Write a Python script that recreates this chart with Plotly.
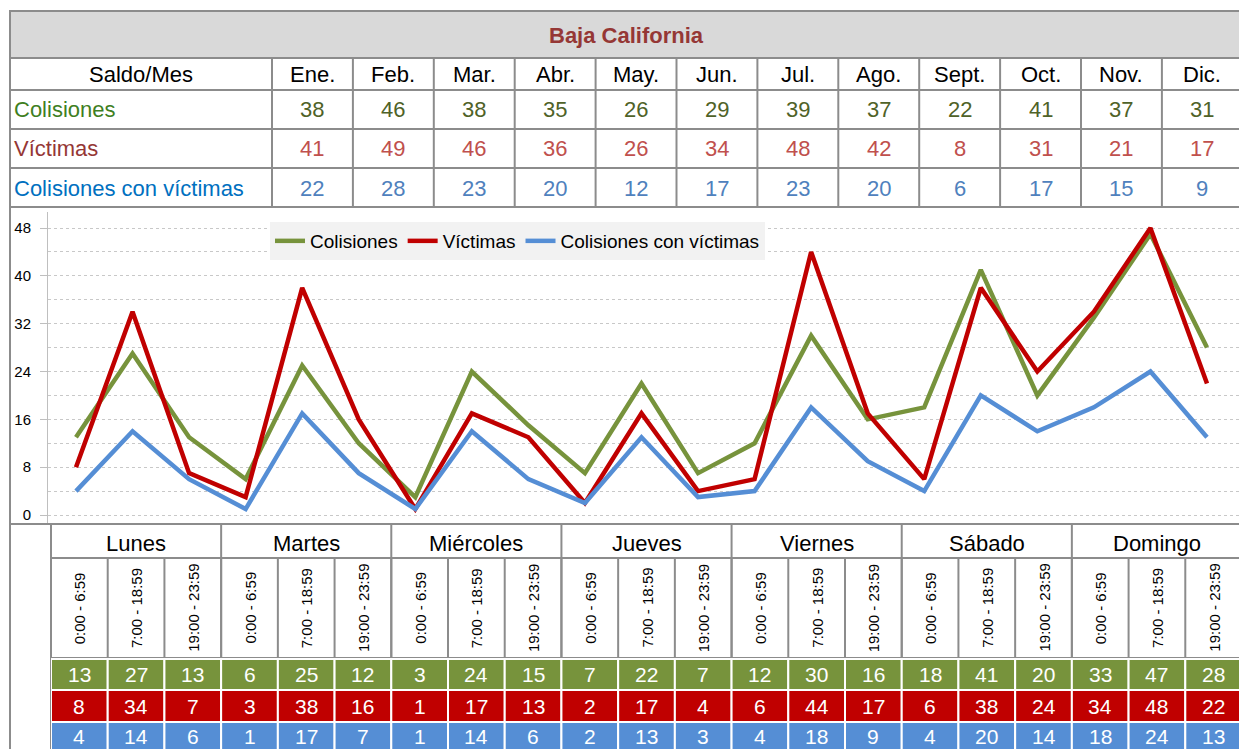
import plotly.graph_objects as go

# ---------------- data ----------------
months = ["Ene.", "Feb.", "Mar.", "Abr.", "May.", "Jun.", "Jul.", "Ago.", "Sept.", "Oct.", "Nov.", "Dic."]
colisiones_mes = [38, 46, 38, 35, 26, 29, 39, 37, 22, 41, 37, 31]
victimas_mes = [41, 49, 46, 36, 26, 34, 48, 42, 8, 31, 21, 17]
ccv_mes = [22, 28, 23, 20, 12, 17, 23, 20, 6, 17, 15, 9]

days = ["Lunes", "Martes", "Miércoles", "Jueves", "Viernes", "Sábado", "Domingo"]
shifts = ["0:00 - 6:59", "7:00 - 18:59", "19:00 - 23:59"]
colisiones_h = [13, 27, 13, 6, 25, 12, 3, 24, 15, 7, 22, 7, 12, 30, 16, 18, 41, 20, 33, 47, 28]
victimas_h = [8, 34, 7, 3, 38, 16, 1, 17, 13, 2, 17, 4, 6, 44, 17, 6, 38, 24, 34, 48, 22]
ccv_h = [4, 14, 6, 1, 17, 7, 1, 14, 6, 2, 13, 3, 4, 18, 9, 4, 20, 14, 18, 24, 13]

series_names = ["Colisiones", "Víctimas", "Colisiones con víctimas"]
y_ticks = [0, 8, 16, 24, 32, 40, 48]

# ---------------- style ----------------
W, H = 1239, 749
FONT = "Liberation Sans, Arial, sans-serif"
GREEN, RED, BLUE = "#77933c", "#c00000", "#558ed5"
GRAY = "#8c8c8c"
label_colors = ["#3f7f1f", "#953735", "#0070c0"]
num_colors = ["#4f6228", "#c0504d", "#4f81bd"]


def X(p):
    return p / W


def Y(p):
    return 1 - p / H


n = len(colisiones_h)
xs = list(range(n))

fig = go.Figure()
for name, vals, col in zip(series_names, [colisiones_h, victimas_h, ccv_h], [GREEN, RED, BLUE]):
    fig.add_trace(go.Scatter(x=xs, y=vals, name=name, mode="lines",
                             line=dict(color=col, width=4.5), hoverinfo="skip"))

# invisible trace for the table axis
fig.add_trace(go.Scatter(x=[0], y=[0], xaxis="x2", yaxis="y2", mode="markers",
                         marker=dict(opacity=0), showlegend=False, hoverinfo="skip"))

shapes = []
ann = []


def text(t, x, y, size, color, xref="paper", xanchor="center", angle=0):
    ann.append(dict(text=t, x=X(x) if xref == "paper" else x, y=Y(y), xref=xref, yref="paper",
                    xanchor=xanchor, yanchor="middle", textangle=angle, showarrow=False,
                    font=dict(family=FONT, size=size, color=color)))


def hline(y, x0=10, x1=1250, color=GRAY, w=2):
    shapes.append(dict(type="line", xref="paper", yref="paper", x0=X(x0), x1=X(x1),
                       y0=Y(y), y1=Y(y), line=dict(color=color, width=w)))


def vline(x, y0, y1, color=GRAY, w=2, xref="paper"):
    xx = X(x) if xref == "paper" else x
    shapes.append(dict(type="line", xref=xref, yref="paper", x0=xx, x1=xx,
                       y0=Y(y0), y1=Y(y1), line=dict(color=color, width=w)))


# ---- top table ----
shapes.append(dict(type="rect", xref="paper", yref="paper", x0=X(10), x1=X(1250),
                   y0=Y(11), y1=Y(58), fillcolor="#d9d9d9", line=dict(color=GRAY, width=2), layer="below"))
for yy in [58, 90, 129, 168, 207, 524]:
    hline(yy)
vline(10, 11, 760)
col0, colw = 272, 80.9
for i in range(len(months) + 1):
    vline(col0 + i * colw, 58, 207)

text("<b>Baja California</b>", 626, 35, 22, "#953735")
text("Saldo/Mes", 141, 75, 22, "black")
row_y = [110, 149, 188]
for name, yy, c in zip(series_names, row_y, label_colors):
    text(name, 12, yy, 22, c, xanchor="left")
for i, m in enumerate(months):
    cx = col0 + (i + 0.5) * colw
    text(m, cx, 75, 22, "black")
    for vals, yy, c in zip([colisiones_mes, victimas_mes, ccv_mes], row_y, num_colors):
        text(str(vals[i]), cx, yy, 22, c)

# ---- bottom table (on x2 axis) ----
vline(51, 524, 760)
for d in range(len(days) + 1):
    vline(d * 3 - 0.5, 524, 658, xref="x2")
for j in range(n + 1):
    vline(j - 0.5, 558, 658, xref="x2")
shapes.append(dict(type="line", xref="x2", yref="paper", x0=-0.5, x1=20.6, y0=Y(558), y1=Y(558),
                   line=dict(color=GRAY, width=2)))
shapes.append(dict(type="line", xref="x2", yref="paper", x0=-0.5, x1=20.6, y0=Y(658), y1=Y(658),
                   line=dict(color=GRAY, width=2)))

band = [(659, 690), (690, 722), (722, 760)]
text_y = [674, 706, 736]
for vals, (b0, b1), ty, col in zip([colisiones_h, victimas_h, ccv_h], band, text_y, [GREEN, RED, BLUE]):
    for j in range(n):
        shapes.append(dict(type="rect", xref="x2", yref="paper", x0=j - 0.5, x1=j + 0.5,
                           y0=Y(b0), y1=Y(b1), fillcolor=col, line=dict(color="white", width=2)))
        text(str(vals[j]), j, ty, 21, "white", xref="x2")

for d, name in enumerate(days):
    text(name, d * 3 + 1, 543, 22, "black", xref="x2")
    for s, sh in enumerate(shifts):
        text(sh, d * 3 + s, 608, 15, "black", xref="x2", angle=-90)

# ---- axes ----
ytop, ybot = 212, 523
y0val = -(ybot - 515) / ((515 - 228) / 48)
y1val = 48 + (228 - ytop) / ((515 - 228) / 48)

fig.update_layout(
    width=W, height=H,
    margin=dict(l=0, r=0, t=0, b=0),
    paper_bgcolor="white", plot_bgcolor="white",
    shapes=shapes, annotations=ann,
    showlegend=True,
    legend=dict(orientation="h", x=X(270), y=Y(222), xanchor="left", yanchor="top",
                bgcolor="#f2f2f2", font=dict(family=FONT, size=19, color="black"),
                itemwidth=30, tracegroupgap=0),
    xaxis=dict(domain=[X(48), 1], range=[-0.495, 20.566], showgrid=False, zeroline=False,
               showticklabels=False, showline=False, fixedrange=True),
    yaxis=dict(domain=[Y(ybot), Y(ytop)], range=[y0val, y1val], tickvals=y_ticks,
               showgrid=True, gridcolor="#c8c8c8", griddash="dot", gridwidth=1,
               minor=dict(dtick=4, tick0=0, showgrid=True, gridcolor="#c8c8c8", griddash="dot", ticks=""),
               showline=True, linecolor="#bfbfbf", linewidth=1, zeroline=False,
               ticks="outside", ticklen=7, tickcolor="#bfbfbf", ticklabelstandoff=6,
               tickfont=dict(family=FONT, size=15, color="black"), fixedrange=True),
    xaxis2=dict(domain=[X(51), 1], range=[-0.5, 20.447], anchor="y2", visible=False, fixedrange=True),
    yaxis2=dict(domain=[0, 0.02], anchor="x2", visible=False, fixedrange=True),
)

fig.write_html("out.html", config={"displayModeBar": False},
               post_script="document.body.style.margin='0';document.body.style.padding='0';"
                           "document.body.style.overflow='hidden';")
